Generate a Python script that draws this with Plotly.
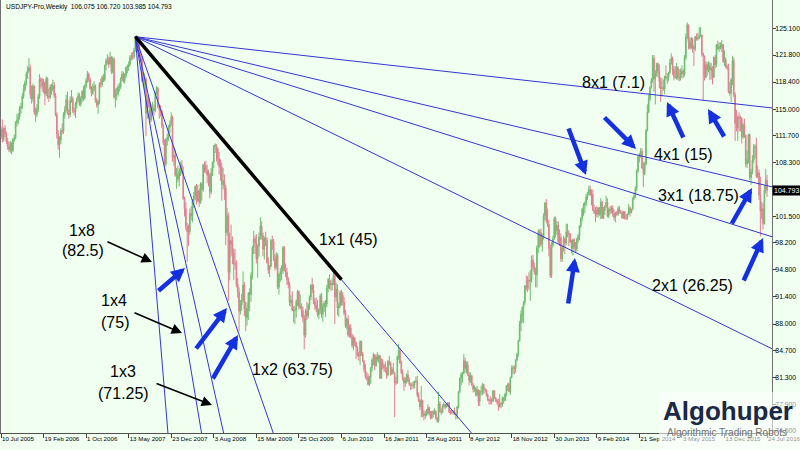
import pandas as pd
import plotly.graph_objects as go

# ---------------- data: weekly USDJPY bars (open, high, low, close), weeks starting on Sunday ----------------
ohlc_2005 = [
    (111.6,112.8,111.3,112.4),(112.4,113.7,110.8,111.2),(111.2,112.7,110.9,112.6),(112.6,113.0,111.5,111.9),
    (111.9,112.2,110.6,111.0),(111.0,111.4,109.9,110.3),(110.3,110.9,109.6,109.9),(109.9,111.0,109.5,110.7),
    (110.7,110.9,109.3,109.8),(109.8,111.4,109.6,111.2),(111.2,111.8,110.9,111.4),(111.4,113.5,111.2,113.3),
    (113.3,114.4,112.8,113.6),(113.6,114.5,113.1,114.0),(114.0,115.4,113.7,115.1),(115.1,115.8,114.4,115.3),
    (115.3,117.0,115.0,116.6),(116.6,118.1,116.3,117.4),(117.4,118.6,117.2,118.3),(118.3,119.7,117.9,119.4),
    (119.4,120.4,118.8,119.8),(119.8,121.4,119.6,120.2),(120.2,120.6,116.3,116.9),(116.9,118.0,115.7,116.3),
    (116.3,118.2,115.9,117.9),
]
ohlc_2006 = [
    (117.9,118.0,114.3,114.6),(114.6,115.2,113.4,114.3),(114.3,115.6,114.0,115.0),(115.0,116.9,114.6,116.6),
    (116.6,119.4,116.3,118.8),(118.8,119.0,117.6,118.5),(118.5,118.9,117.2,117.9),(117.9,118.8,117.0,118.3),
    (118.3,118.5,115.5,116.9),(116.9,119.1,116.6,118.8),(118.8,119.0,116.3,116.6),(116.6,117.6,115.9,116.5),
    (116.5,118.1,116.3,117.8),(117.8,118.2,116.8,117.5),(117.5,118.7,117.2,118.0),(118.0,118.4,116.4,116.7),
    (116.7,117.0,114.1,114.3),(114.3,114.6,111.3,111.9),(111.9,112.4,109.9,110.5),(110.5,111.6,108.9,111.1),
    (111.1,112.6,110.6,112.3),(112.3,113.2,111.8,112.2),(112.2,114.6,111.9,114.3),(114.3,115.4,113.8,115.0),
    (115.0,116.8,114.7,116.2),(116.2,117.2,114.3,114.5),(114.5,115.0,113.8,114.3),(114.3,116.6,114.0,116.1),
    (116.1,117.4,115.8,116.3),(116.3,116.6,114.5,114.8),(114.8,115.2,114.2,114.7),(114.7,115.9,113.9,115.7),
    (115.7,116.5,115.1,116.2),(116.2,117.1,115.9,116.7),(116.7,117.0,115.4,115.6),(115.6,116.6,115.3,116.3),
    (116.3,117.4,115.9,117.2),(117.2,117.9,116.0,116.4),(116.4,118.1,116.2,117.9),(117.9,118.9,117.6,118.6),
    (118.6,119.8,118.3,119.4),(119.4,119.6,118.4,118.7),(118.7,119.0,117.4,117.6),(117.6,117.9,116.6,117.0),
    (117.0,118.2,116.8,117.7),(117.7,118.5,117.3,117.9),(117.9,118.1,115.8,116.1),(116.1,116.4,115.2,115.5),
    (115.5,116.2,114.4,115.9),(115.9,118.4,115.6,118.2),(118.2,118.8,117.7,118.1),(118.1,119.2,117.8,119.0),
    (119.0,119.4,118.4,118.7),
]
ohlc_2007 = [
    (118.7,120.6,118.5,120.5),(120.5,121.4,119.9,121.1),(121.1,121.9,120.6,121.2),(121.2,121.6,120.2,120.7),
    (120.7,122.2,120.5,121.5),(121.5,121.7,119.4,119.7),(119.7,121.6,119.5,121.3),(121.3,121.5,116.3,116.5),
    (116.5,117.6,115.2,116.9),(116.9,117.7,116.1,116.9),(116.9,118.1,116.6,117.8),(117.8,118.3,117.2,117.8),
    (117.8,119.0,117.5,118.8),(118.8,119.8,118.5,119.4),(119.4,119.7,118.3,118.5),(118.5,119.5,118.2,119.2),
    (119.2,120.4,118.9,120.2),(120.2,120.6,119.5,120.3),(120.3,121.0,119.8,120.6),(120.6,121.8,120.4,121.5),
    (121.5,122.1,121.1,121.7),(121.7,122.2,121.2,121.6),(121.6,122.7,121.3,122.4),(122.4,124.1,122.2,123.8),
    (123.8,124.0,122.8,123.2),(123.2,123.6,122.6,123.1),(123.1,123.5,121.6,121.8),(121.8,122.3,120.9,121.5),
    (121.5,121.7,118.4,118.6),(118.6,119.6,117.9,118.6),(118.6,119.5,117.4,118.8),(118.8,119.0,111.6,114.5),
    (114.5,116.8,113.8,116.1),(116.1,116.6,115.2,115.8),(115.8,116.0,113.3,113.7),(113.7,115.6,113.4,115.0),
    (115.0,115.9,114.4,115.1),(115.1,115.6,114.2,114.8),(114.8,117.2,114.6,117.0),(117.0,117.9,116.8,117.6),
    (117.6,117.8,115.1,115.3),(115.3,115.6,113.8,114.9),(114.9,115.5,114.1,114.7),(114.7,114.9,112.6,112.9),
    (112.9,113.2,110.5,110.8),(110.8,111.2,107.2,108.1),(108.1,111.4,107.8,111.2),(111.2,111.9,110.4,111.4),
    (111.4,113.0,111.0,112.7),(112.7,113.6,112.0,113.1),(113.1,114.6,112.9,114.0),(114.0,114.2,108.4,108.9),
]
ohlc_2008 = [
    (108.9,110.3,107.9,109.2),(109.2,109.9,106.5,106.7),(106.7,107.6,105.0,106.8),(106.8,107.9,105.8,106.2),
    (106.2,107.6,105.3,107.2),(107.2,108.4,106.6,108.0),(108.0,108.6,106.8,107.1),(107.1,107.8,103.6,103.8),
    (103.8,104.0,101.5,102.5),(102.5,103.3,99.8,100.2),(100.2,100.7,95.8,99.6),(99.6,100.5,97.8,99.6),
    (99.6,102.5,99.2,101.9),(101.9,102.8,101.0,101.6),(101.6,103.7,100.8,103.5),(103.5,104.6,102.6,104.1),
    (104.1,105.4,103.6,105.3),(105.3,105.6,103.0,103.5),(103.5,105.5,103.3,104.7),(104.7,105.0,102.7,103.3),
    (103.3,105.8,103.1,105.6),(105.6,105.8,103.5,104.9),(104.9,108.1,104.6,108.0),(108.0,108.4,107.0,107.9),
    (107.9,108.5,106.9,107.3),(107.3,108.0,105.7,106.7),(106.7,107.4,105.3,106.7),(106.7,107.0,103.8,104.6),
    (104.6,107.6,104.3,106.9),(106.9,108.4,106.6,108.3),(108.3,110.5,107.6,110.4),(110.4,110.7,109.5,110.5),
    (110.5,110.6,108.4,110.0),(110.0,110.2,108.0,108.8),(108.8,109.6,106.8,107.8),(107.8,108.7,106.0,107.7),
    (107.7,108.3,103.5,105.5),(105.5,107.6,104.9,106.0),(106.0,106.8,103.6,105.1),(105.1,105.5,97.9,99.5),
    (99.5,102.6,99.1,101.6),(101.6,102.0,90.9,94.5),(94.5,99.5,93.5,98.5),(98.5,100.5,96.5,98.0),
    (98.0,99.0,95.5,96.9),(96.9,97.5,93.5,95.6),(95.6,97.4,94.8,95.5),(95.5,96.0,92.6,93.0),
    (93.0,93.8,91.3,92.0),(92.0,92.6,87.1,89.6),(89.6,91.0,89.2,90.4),(90.4,91.8,89.7,91.0),
]
ohlc_2009 = [
    (91.0,94.6,90.7,92.9),(92.9,93.3,89.0,89.9),(89.9,90.8,87.1,88.8),(88.8,90.7,87.8,90.0),
    (90.0,92.0,88.5,91.9),(91.9,92.5,89.6,91.7),(91.7,94.5,90.8,94.1),(94.1,97.8,93.6,97.6),
    (97.6,99.7,96.8,98.7),(98.7,99.1,96.8,98.2),(98.2,99.3,95.6,96.2),(96.2,98.0,93.8,97.8),
    (97.8,99.5,96.5,98.9),(98.9,101.4,98.6,100.3),(100.3,100.9,98.6,99.1),(99.1,99.5,96.5,97.4),
    (97.4,99.0,96.1,98.8),(98.8,99.6,97.8,98.5),(98.5,98.9,95.6,95.7),(95.7,96.4,94.3,94.8),
    (94.8,95.4,93.9,95.3),(95.3,98.7,95.1,98.5),(98.5,99.1,97.3,98.4),(98.4,98.7,95.9,96.2),
    (96.2,96.8,94.7,95.1),(95.1,97.0,94.9,96.6),(96.6,96.9,92.4,92.6),(92.6,94.3,91.7,94.3),
    (94.3,95.1,93.3,94.6),(94.6,95.4,93.5,94.7),(94.7,97.8,94.3,97.6),(97.6,97.8,94.6,94.9),
    (94.9,95.6,93.9,94.5),(94.5,95.1,92.9,93.6),(93.6,93.9,92.5,93.0),(93.0,93.3,90.3,90.7),
    (90.7,91.6,90.2,91.0),(91.0,92.1,89.6,89.7),(89.7,90.2,88.2,89.7),(89.7,90.3,88.0,89.8),
    (89.8,91.1,88.8,90.9),(90.9,92.3,90.3,92.1),(92.1,92.2,89.8,90.1),(90.1,91.7,89.9,90.2),
    (90.2,90.6,88.9,89.7),(89.7,90.2,88.2,88.7),(88.7,89.1,84.8,86.6),(86.6,89.9,86.3,89.6),
    (89.6,90.8,88.5,89.0),(89.0,90.6,88.7,90.4),(90.4,91.6,89.8,91.4),(91.4,93.0,91.0,92.9),
]
ohlc_2010 = [
    (92.9,93.8,91.9,92.3),(92.3,93.0,90.5,90.8),(90.8,91.3,89.8,90.3),(90.3,91.3,89.5,89.9),
    (89.9,91.0,88.9,89.2),(89.2,90.0,88.6,89.8),(89.8,91.8,89.3,91.5),(91.5,91.9,88.8,89.2),
    (89.2,90.6,88.3,90.1),(90.1,90.9,89.5,90.6),(90.6,91.0,88.9,90.5),(90.5,92.9,90.1,92.5),
    (92.5,93.8,92.0,93.6),(93.6,94.2,92.4,93.2),(93.2,93.5,92.2,92.9),(92.9,93.7,92.2,93.1),
    (93.1,95.0,92.9,94.1),(94.1,94.6,88.0,91.4),(91.4,93.2,90.8,92.4),(92.4,93.0,89.1,90.0),
    (90.0,90.7,88.9,90.3),(90.3,92.2,90.0,92.0),(92.0,92.3,90.3,91.6),(91.6,92.0,90.3,90.7),
    (90.7,91.4,89.1,89.4),(89.4,89.8,87.5,87.8),(87.8,88.8,87.3,88.6),(88.6,89.1,86.4,86.6),
    (86.6,87.9,86.3,87.5),(87.5,88.0,86.2,86.4),(86.4,86.8,85.0,85.3),(85.3,86.6,84.7,86.2),
    (86.2,86.4,85.2,85.6),(85.6,85.8,83.6,85.1),(85.1,85.2,83.9,84.1),(84.1,84.5,83.4,84.0),
    (84.0,86.0,82.9,85.8),(85.8,85.9,84.0,84.3),(84.3,84.5,83.2,83.3),(83.3,83.5,81.9,82.3),
    (82.3,83.0,81.1,81.4),(81.4,82.0,80.9,81.4),(81.4,81.8,80.3,80.4),(80.4,81.5,80.2,81.3),
    (81.3,82.6,80.5,82.5),(82.5,83.7,82.0,83.5),(83.5,84.4,82.8,84.1),(84.1,84.2,82.2,82.8),
    (82.8,84.2,82.6,83.9),(83.9,84.5,83.3,83.6),(83.6,84.2,83.1,84.0),(84.0,84.1,81.1,81.2),
]
ohlc_2011 = [
    (81.2,83.7,81.1,83.2),(83.2,83.6,82.3,82.8),(82.8,83.0,82.0,82.5),(82.5,83.3,81.9,82.1),
    (82.1,82.6,81.1,81.6),(81.6,83.5,81.4,83.3),(83.3,84.0,82.8,83.1),(83.1,83.3,81.5,81.7),
    (81.7,82.6,81.6,82.3),(82.3,83.1,81.8,81.9),(81.9,82.0,76.3,80.6),(80.6,81.4,80.3,80.6),
    (80.6,84.0,80.5,83.9),(83.9,85.5,83.5,84.7),(84.7,85.0,83.0,83.1),(83.1,83.4,81.7,81.9),
    (81.9,82.3,80.9,81.2),(81.2,81.4,79.6,80.6),(80.6,81.3,80.1,81.0),(81.0,81.8,80.5,81.6),
    (81.6,82.2,80.7,80.8),(80.8,81.3,80.2,80.4),(80.4,80.6,79.7,80.3),(80.3,80.7,79.8,80.3),
    (80.3,80.8,79.9,80.4),(80.4,80.9,79.9,80.8),(80.8,81.4,80.6,80.8),(80.8,81.5,78.8,79.1),
    (79.1,79.4,78.2,78.4),(78.4,78.6,77.2,77.6),(77.6,80.2,76.3,78.4),(78.4,78.5,76.3,76.8),
    (76.8,77.2,75.9,76.5),(76.5,77.1,76.1,76.7),(76.7,77.3,76.4,76.8),(76.8,77.9,76.6,77.5),
    (77.5,77.6,76.5,76.8),(76.8,77.1,76.0,76.2),(76.2,77.1,76.1,77.0),(77.0,77.2,76.3,76.8),
    (76.8,77.4,76.6,77.0),(77.0,77.2,76.0,76.2),(76.2,76.3,75.6,75.8),(75.8,79.5,75.6,78.0),
    (78.0,78.3,76.9,77.0),(77.0,77.4,76.6,76.9),(76.9,77.9,76.8,77.7),(77.7,78.2,77.4,77.9),
    (77.9,78.0,77.3,77.6),(77.6,78.0,77.5,77.8),(77.8,78.2,77.6,78.1),(78.1,78.2,76.8,76.9),
]
ohlc_2012 = [
    (76.9,77.2,76.6,76.9),(76.9,77.2,76.7,76.9),(76.9,77.2,76.6,77.0),(77.0,77.5,76.6,76.7),
    (76.7,76.9,76.0,76.6),(76.6,77.7,76.1,77.6),(77.6,79.6,77.4,79.5),(79.5,81.3,79.3,81.2),
    (81.2,81.9,80.3,81.7),(81.7,82.0,80.6,81.8),(81.8,84.2,81.7,83.4),(83.4,83.8,81.9,82.4),
    (82.4,83.3,81.8,82.9),(82.9,83.3,81.5,81.6),(81.6,82.0,80.3,80.9),(80.9,81.9,80.6,81.5),
    (81.5,81.6,80.2,80.3),(80.3,80.6,79.4,79.8),(79.8,80.3,79.5,79.9),(79.9,80.1,78.9,79.1),
    (79.1,80.2,78.9,79.7),(79.7,79.8,77.7,78.3),(78.3,79.7,77.7,79.5),(79.5,80.2,79.0,79.5),
    (79.5,80.6,79.1,80.4),(80.4,80.5,79.2,79.8),(79.8,80.0,79.4,79.7),(79.7,79.8,78.9,79.1),
    (79.1,79.3,78.3,78.5),(78.5,78.6,77.9,78.4),(78.4,78.9,77.9,78.4),(78.4,78.7,77.9,78.3),
    (78.3,79.7,78.2,79.6),(79.6,79.7,78.6,78.7),(78.7,78.8,78.2,78.4),(78.4,78.6,77.9,78.2),
    (78.2,78.6,77.1,77.6),(77.6,79.2,77.5,78.0),(78.0,78.2,77.4,77.9),(77.9,78.9,77.6,78.7),
    (78.7,78.8,78.0,78.4),(78.4,79.3,78.3,79.2),(79.2,80.3,78.9,80.2),(80.2,80.6,79.6,80.4),
    (80.4,80.7,79.4,79.5),(79.5,81.4,79.1,81.3),(81.3,82.8,81.2,82.4),(82.4,82.8,81.7,82.5),
    (82.5,82.8,81.7,82.4),(82.4,83.6,81.9,83.5),(83.5,84.4,83.3,84.2),(84.2,86.0,83.9,85.9),
    (85.9,88.4,85.8,88.1),
]
ohlc_2013 = [
    (88.1,89.7,87.1,89.2),(89.2,90.2,88.2,90.1),(90.1,90.9,88.1,90.8),(90.8,92.9,90.4,92.8),
    (92.8,94.1,92.2,92.6),(92.6,94.0,92.0,93.5),(93.5,94.5,92.3,93.4),(93.4,94.8,90.9,93.6),
    (93.6,96.6,93.2,96.0),(96.0,96.7,94.8,95.2),(95.2,95.7,94.2,94.5),(94.5,95.1,92.6,94.2),
    (94.2,97.9,92.6,97.6),(97.6,99.9,96.9,99.6),(99.6,99.9,97.6,99.5),(99.5,100.0,97.7,98.0),
    (98.0,99.4,97.1,99.0),(99.0,101.9,98.6,101.6),(101.6,103.3,101.0,103.2),(103.2,103.7,100.7,101.0),
    (101.0,102.5,100.2,100.5),(100.5,101.1,96.5,97.5),(97.5,98.0,93.8,94.1),(94.1,98.3,93.8,97.9),
    (97.9,99.1,97.6,98.7),(98.7,101.5,98.6,101.2),(101.2,101.5,98.9,99.7),(99.7,100.9,99.2,100.4),
    (100.4,100.9,98.1,98.3),(98.3,99.9,97.8,98.9),(98.9,99.4,95.8,96.2),(96.2,97.8,95.8,97.5),
    (97.5,99.1,97.1,98.7),(98.7,98.9,96.8,98.2),(98.2,100.6,97.9,99.6),(99.6,100.6,98.9,99.4),
    (99.4,99.8,97.8,99.3),(99.3,99.4,98.2,98.3),(98.3,98.6,96.9,97.5),(97.5,98.7,96.6,98.6),
    (98.6,98.8,97.2,97.7),(97.7,98.3,96.9,97.4),(97.4,98.8,97.1,98.7),(98.7,99.3,98.2,99.1),
    (99.1,100.4,98.5,100.3),(100.3,101.4,100.0,101.3),(101.3,102.6,100.9,102.4),(102.4,103.2,101.6,102.9),
    (102.9,103.4,101.9,103.2),(103.2,104.3,102.8,104.0),(104.0,104.6,103.6,104.5),(104.5,105.4,104.2,104.9),
]
ohlc_2014 = [
    (104.9,105.4,104.1,104.2),(104.2,104.9,102.9,104.3),(104.3,104.9,102.2,102.3),(102.3,103.0,101.8,102.0),
    (102.0,102.7,100.8,102.3),(102.3,102.8,101.4,101.8),(101.8,102.7,101.4,102.6),(102.6,102.7,101.6,101.8),
    (101.8,103.8,101.2,103.3),(103.3,103.5,101.2,101.3),(101.3,102.7,101.2,102.3),(102.3,102.9,101.7,102.8),
    (102.8,104.1,102.6,103.3),(103.3,103.8,101.4,101.6),(101.6,102.6,101.3,102.4),(102.4,102.8,101.8,102.2),
    (102.2,102.9,101.9,102.6),(102.6,102.9,101.5,101.8),(101.8,102.4,101.0,101.4),(101.4,102.1,100.8,101.9),
    (101.9,102.2,101.6,101.8),(101.8,102.8,101.6,102.5),(102.5,102.8,101.9,102.0),(102.0,102.3,101.8,102.0),
    (102.0,102.3,101.2,101.4),(101.4,102.2,101.2,102.1),(102.1,102.2,101.1,101.3),(101.3,101.8,101.1,101.3),
    (101.3,101.9,101.1,101.8),(101.8,103.1,101.7,102.6),(102.6,102.8,101.5,102.0),(102.0,102.5,101.9,102.4),
    (102.4,103.9,102.3,103.8),(103.8,104.5,103.6,104.1),(104.1,105.3,103.8,105.1),(105.1,107.4,104.7,107.3),
    (107.3,109.2,107.0,109.0),(109.0,109.5,108.3,109.3),(109.3,110.1,108.9,109.7),(109.7,110.1,107.5,107.6),
    (107.6,108.3,105.2,106.9),(106.9,108.4,106.7,108.1),(108.1,112.5,107.9,112.3),(112.3,115.6,112.2,114.6),
    (114.6,116.8,114.5,116.3),(116.3,117.9,116.0,117.7),(117.7,118.9,117.6,118.6),(118.6,121.8,118.3,121.4),
    (121.4,121.8,117.2,118.8),(118.8,119.9,115.6,119.5),(119.5,120.8,119.1,120.7),(120.7,120.9,119.0,119.8),
]
ohlc_2015 = [
    (119.8,120.6,117.6,118.5),(118.5,119.0,115.9,117.6),(117.6,118.9,116.6,117.7),(117.7,118.7,117.3,117.5),
    (117.5,119.2,116.9,119.1),(119.1,120.5,118.6,118.9),(118.9,119.5,118.2,119.0),(119.0,119.7,118.5,119.6),
    (119.6,121.3,119.4,120.8),(120.8,122.0,120.6,121.4),(121.4,121.6,119.3,120.0),(120.0,120.4,118.6,119.1),
    (119.1,120.4,118.8,119.0),(119.0,120.8,118.7,120.2),(120.2,120.4,118.6,118.9),(118.9,120.0,118.5,118.9),
    (118.9,120.1,118.6,119.4),(119.4,120.5,118.9,119.8),(119.8,120.0,118.9,119.4),(119.4,121.8,119.1,121.5),
    (121.5,124.5,121.2,124.1),(124.1,125.9,123.8,125.6),(125.6,125.6,122.5,123.4),(123.4,124.0,122.5,122.7),
    (122.7,124.1,122.5,123.9),(123.9,123.9,122.1,122.8),(122.8,123.1,120.4,122.6),(122.6,124.2,122.3,124.1),
    (124.1,124.5,123.6,123.8),(123.8,124.6,123.6,123.9),(123.9,125.3,123.8,124.2),(124.2,125.3,124.1,124.3),
    (124.3,124.4,121.6,122.0),(122.0,122.1,116.1,121.7),(121.7,121.7,118.6,119.0),(119.0,121.0,118.9,120.6),
    (120.6,120.9,119.2,119.9),(119.9,121.0,119.6,120.5),(120.5,120.9,118.7,119.9),(119.9,120.8,118.7,120.2),
    (120.2,120.4,118.1,119.0),(119.0,121.6,118.9,121.5),(121.5,121.8,120.1,120.6),(120.6,123.2,120.3,123.1),
    (123.1,123.6,122.4,122.6),(122.6,123.4,122.2,122.8),(122.8,123.4,122.5,122.8),(122.8,123.7,122.2,123.1),
    (123.1,123.2,120.8,121.0),(121.0,122.4,120.4,121.2),(121.2,121.5,120.1,120.3),(120.3,120.6,119.9,120.2),
]
ohlc_2016 = [
    (120.2,120.7,117.0,117.2),(117.2,118.4,116.7,117.0),(117.0,118.9,115.9,118.7),(118.7,121.7,118.0,121.1),
    (121.1,121.5,116.5,116.8),(116.8,117.1,111.0,113.2),(113.2,114.9,112.2,112.6),(112.6,114.2,111.0,114.0),
    (114.0,114.6,112.2,113.8),(113.8,114.2,112.2,113.8),(113.8,114.0,110.7,111.5),(111.5,113.3,111.3,113.0),
    (113.0,113.8,111.4,111.7),(111.7,111.8,107.7,108.1),(108.1,109.8,107.6,108.7),(108.7,111.9,108.2,111.8),
    (111.8,111.9,106.1,106.4),(106.4,107.5,105.5,107.1),(107.1,109.2,106.8,108.6),(108.6,110.6,108.2,110.2),
    (110.2,110.6,108.8,110.3),(110.3,111.4,106.4,106.5),(106.5,107.9,106.3,107.0),(107.0,107.4,103.6,104.2),
    (104.2,106.5,99.0,102.2),(102.2,103.4,101.2,102.5),(102.5,103.2,99.9,100.6),(100.6,105.4,100.5,104.8),
    (104.8,107.5,104.4,106.1),(106.075,106.720,103.985,104.793),
]
first_week = "2005-07-10"
last_ohlc = (106.075, 106.720, 103.985, 104.793)

# Gann fan (slopes in price units per weekly bar), anchored at the 2007 top
fan_names = ["1x8", "1x4", "1x3", "1x2", "1x1", "2x1", "3x1", "4x1", "8x1"]
fan_slopes = [2.03, 1.0, 0.75, 0.48, 0.197, 0.0819, 0.0525, 0.0394, 0.0187]
trend_end_week = "2010-06-06"   # end of the black 1x1 trend line

# axis ticks
x_tick_dates = ["2005-07-10", "2006-02-19", "2006-10-01", "2007-05-13", "2007-12-23", "2008-08-03",
                "2009-03-15", "2009-10-25", "2010-06-06", "2011-01-16", "2011-08-28", "2012-04-08",
                "2012-11-18", "2013-06-30", "2014-02-09", "2014-09-21", "2015-05-03", "2015-12-13",
                "2016-07-24"]
x_tick_text = ["10 Jul 2005", "19 Feb 2006", "1 Oct 2006", "13 May 2007", "23 Dec 2007", "3 Aug 2008",
               "15 Mar 2009", "25 Oct 2009", "6 Jun 2010", "16 Jan 2011", "28 Aug 2011", "8 Apr 2012",
               "18 Nov 2012", "30 Jun 2013", "9 Feb 2014", "21 Sep 2014", "3 May 2015", "13 Dec 2015",
               "24 Jul 2016"]
y_tick_vals = [125.1, 121.8, 118.4, 115.0, 111.7, 108.3, 101.5, 98.2, 94.8, 91.4, 88.0, 84.7, 81.3, 77.9, 74.6]

# ---------------- build ----------------
years = [ohlc_2005, ohlc_2006, ohlc_2007, ohlc_2008, ohlc_2009, ohlc_2010, ohlc_2011,
         ohlc_2012, ohlc_2013, ohlc_2014, ohlc_2015, ohlc_2016]
bars = [b for y in years for b in y]
start = pd.Timestamp(first_week)
dates = [start + pd.Timedelta(weeks=i) for i in range(len(bars))]
o = [b[0] for b in bars]; h = [b[1] for b in bars]; l = [b[2] for b in bars]; c = [b[3] for b in bars]

# fan origin: the highest bar of 2007
off07 = len(ohlc_2005) + len(ohlc_2006)
i07 = max(range(len(ohlc_2007)), key=lambda k: ohlc_2007[k][1])
origin_i = off07 + i07
origin_d = dates[origin_i]
origin_p = h[origin_i]

# geometry of the reference frame (pixels)
W, H = 800, 450
ML, MR, MT, MB = 1, 28, 0, 17
PX_PER_WEEK = 1.3299
PW = W - ML - MR
PH = H - MT - MB
y_top, y_bot = 128.71, 74.31

UP = "#70BC70"
DN = "#E27E90"
FAN = "#3535D5"
ARROW = "#1530E0"
FONT = "Liberation Sans, Arial, sans-serif"

fig = go.Figure()
fig.add_trace(go.Candlestick(
    x=dates, open=o, high=h, low=l, close=c,
    increasing=dict(line=dict(color=UP, width=1), fillcolor=UP),
    decreasing=dict(line=dict(color=DN, width=1), fillcolor=DN),
    whiskerwidth=0, showlegend=False, hoverinfo="skip"))

span = 520
for name, s in zip(fan_names, fan_slopes):
    fig.add_trace(go.Scatter(
        x=[origin_d, origin_d + pd.Timedelta(weeks=span)],
        y=[origin_p, origin_p - s * span],
        mode="lines", line=dict(color=FAN, width=1), showlegend=False, hoverinfo="skip"))

te = pd.Timestamp(trend_end_week)
wk = (te - origin_d).days / 7.0
s11 = fan_slopes[fan_names.index("1x1")]
fig.add_trace(go.Scatter(x=[origin_d, te], y=[origin_p, origin_p - s11 * wk], mode="lines",
                         line=dict(color="black", width=3.5), showlegend=False, hoverinfo="skip"))

def px(x):
    return (x - ML) / PW

def py(y):
    return (H - MB - y) / PH

ann = []
# title line
ann.append(dict(x=px(4), y=py(7), xref="paper", yref="paper", xanchor="left", yanchor="middle",
                text="USDJPY-Pro,Weekly  %.3f %.3f %.3f %.3f" % last_ohlc, showarrow=False,
                font=dict(family=FONT, size=6.6, color="black")))
# big labels (text, centre x, centre y in pixels)
labels = [("1x8", 82, 230), ("(82.5)", 83, 251), ("1x4", 114, 300), ("(75)", 115, 322),
          ("1x3", 123, 371), ("(71.25)", 123, 393), ("1x2 (63.75)", 292, 369), ("1x1 (45)", 348, 240),
          ("8x1 (7.1)", 613, 82), ("4x1 (15)", 683, 154), ("3x1 (18.75)", 698, 196),
          ("2x1 (26.25)", 692, 285)]
for t, x, y in labels:
    ann.append(dict(x=px(x), y=py(y), xref="paper", yref="paper", text=t, showarrow=False,
                    xanchor="center", yanchor="middle", font=dict(family=FONT, size=16, color="black")))
# black pointer arrows (tail -> head, pixels)
black_arrows = [((106, 241), (152, 262)), ((133, 312), (182, 333)), ((155, 383), (212, 405))]
for (tx, ty), (hx, hy) in black_arrows:
    ann.append(dict(x=px(hx), y=py(hy), xref="paper", yref="paper", ax=tx - hx, ay=ty - hy,
                    text="", showarrow=True, arrowhead=2, arrowsize=1.3, arrowwidth=1.6,
                    arrowcolor="black", standoff=0))
blue_arrows = [((157, 292), (185, 268)), ((195, 350), (227, 308)), ((212, 380), (238, 335)),
               ((568, 305), (575, 258)), ((568, 127), (586, 175)), ((603, 116), (636, 149)),
               ((684, 139), (667, 102)), ((725, 138), (708, 109)), ((731, 225), (752, 188)),
               ((743, 282), (763, 238))]
for (tx, ty), (hx, hy) in blue_arrows:
    ann.append(dict(x=px(hx), y=py(hy), xref="paper", yref="paper", ax=tx - hx, ay=ty - hy,
                    text="", showarrow=True, arrowhead=2, arrowsize=0.62, arrowwidth=4.5,
                    arrowcolor=ARROW, standoff=0))
# current price tag
ann.append(dict(x=1, y=last_ohlc[3], xref="paper", yref="y", xanchor="left", yanchor="middle",
                text="104.793", showarrow=False, bgcolor="black", borderpad=1, xshift=0,
                font=dict(family=FONT, size=7, color="white")))
# logo
ann.append(dict(x=px(728), y=py(411), xref="paper", yref="paper", text="<b>Algohuper</b>", showarrow=False,
                xanchor="center", yanchor="middle", font=dict(family=FONT, size=26, color="#1B2946")))
ann.append(dict(x=px(727), y=py(432), xref="paper", yref="paper", text="Algorithmic Trading Robots",
                showarrow=False, xanchor="center", yanchor="middle",
                font=dict(family=FONT, size=10, color="#707070")))

shapes = [dict(type="rect", xref="paper", yref="paper", x0=px(659), x1=px(800), y0=py(450), y1=py(392),
               fillcolor="rgba(255,255,255,0.55)", line=dict(width=0), layer="above")]

x_range = [start, start + pd.Timedelta(days=7 * PW / PX_PER_WEEK)]

fig.update_layout(
    width=W, height=H, margin=dict(l=ML, r=MR, t=MT, b=MB, autoexpand=False),
    paper_bgcolor="#F0FFF0", plot_bgcolor="#F0FFF0",
    annotations=ann, shapes=shapes, showlegend=False,
    xaxis=dict(type="date", range=x_range, rangeslider=dict(visible=False), showgrid=False, zeroline=False,
               automargin=False, tickangle=0, ticklabeloverflow="allow",
               tickvals=x_tick_dates, ticktext=x_tick_text, ticks="outside", ticklen=4, tickcolor="#404040",
               ticklabelposition="outside right", tickfont=dict(family=FONT, size=6.2, color="black"),
               showline=True, linecolor="#505050", linewidth=1),
    yaxis=dict(range=[y_bot, y_top], side="right", showgrid=False, zeroline=False, automargin=False,
               tickvals=y_tick_vals, ticktext=["%.3f" % v for v in y_tick_vals],
               ticks="outside", ticklen=3, tickcolor="#404040", ticklabelstandoff=-2,
               tickfont=dict(family=FONT, size=6.8, color="black"),
               showline=True, mirror=True, linecolor="#707070", linewidth=1),
)

# remove the browser's default 8px page margin so the 800x450 figure fills the window exactly
fig.write_html("out.html", config={"displayModeBar": False},
               post_script="document.body.style.margin='0px';")
